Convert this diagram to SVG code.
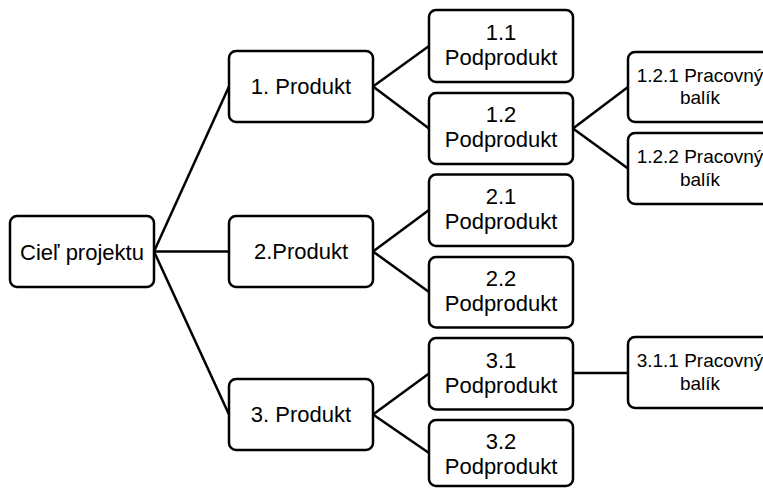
<svg xmlns="http://www.w3.org/2000/svg" width="763" height="488" viewBox="0 0 763 488">
<style>
.box{fill:#fff;stroke:#000;stroke-width:2.5}
.t{font-family:"Liberation Sans",Arial,sans-serif;font-size:22px;fill:#000;text-anchor:middle}
.s{font-family:"Liberation Sans",Arial,sans-serif;font-size:19px;fill:#000;text-anchor:middle}
#connectors line{stroke:#000;stroke-width:2.5;fill:none}
</style>
<rect width="763" height="488" fill="#fff"/>
<g id="connectors">
<line x1="154" y1="251.5" x2="229" y2="86.5"/>
<line x1="154" y1="251.5" x2="229" y2="251.5"/>
<line x1="154" y1="251.5" x2="229" y2="414.5"/>
<line x1="373" y1="86.5" x2="429" y2="46"/>
<line x1="373" y1="86.5" x2="429" y2="128.5"/>
<line x1="373" y1="251.5" x2="429" y2="210"/>
<line x1="373" y1="251.5" x2="429" y2="292"/>
<line x1="373" y1="414.5" x2="429" y2="373.5"/>
<line x1="373" y1="414.5" x2="429" y2="453"/>
<line x1="573" y1="128.5" x2="628" y2="87"/>
<line x1="573" y1="128.5" x2="628" y2="168.5"/>
<line x1="573" y1="373" x2="628" y2="373"/>
</g>
<g id="root"><rect class="box" x="10" y="216" width="144" height="71" rx="7"/><text class="t" x="82" y="259.5">Cieľ projektu</text></g>
<g id="p1"><rect class="box" x="229" y="51" width="144" height="71" rx="7"/><text class="t" x="301" y="94">1. Produkt</text></g>
<g id="p2"><rect class="box" x="229" y="216" width="144" height="71" rx="7"/><text class="t" x="301" y="259">2.Produkt</text></g>
<g id="p3"><rect class="box" x="229" y="379" width="144" height="71" rx="7"/><text class="t" x="301" y="422">3. Produkt</text></g>
<g id="p11"><rect class="box" x="429" y="10" width="144" height="72" rx="7"/><text class="t" x="501" y="40">1.1</text><text class="t" x="501" y="65">Podprodukt</text></g>
<g id="p12"><rect class="box" x="429" y="93" width="144" height="71" rx="7"/><text class="t" x="501" y="122">1.2</text><text class="t" x="501" y="147">Podprodukt</text></g>
<g id="p21"><rect class="box" x="429" y="174.5" width="144" height="71.5" rx="7"/><text class="t" x="501" y="204">2.1</text><text class="t" x="501" y="229">Podprodukt</text></g>
<g id="p22"><rect class="box" x="429" y="257" width="144" height="70.5" rx="7"/><text class="t" x="501" y="286">2.2</text><text class="t" x="501" y="311">Podprodukt</text></g>
<g id="p31"><rect class="box" x="429" y="338" width="144" height="71.5" rx="7"/><text class="t" x="501" y="367.5">3.1</text><text class="t" x="501" y="392.5">Podprodukt</text></g>
<g id="p32"><rect class="box" x="429" y="420" width="144" height="66" rx="7"/><text class="t" x="501" y="449">3.2</text><text class="t" x="501" y="474">Podprodukt</text></g>
<g id="w121"><rect class="box" x="628" y="52" width="144" height="70" rx="7"/><text class="s" x="700" y="81.5">1.2.1 Pracovný</text><text class="s" x="700" y="104">balík</text></g>
<g id="w122"><rect class="box" x="628" y="133" width="144" height="71" rx="7"/><text class="s" x="700" y="163">1.2.2 Pracovný</text><text class="s" x="700" y="186">balík</text></g>
<g id="w311"><rect class="box" x="628" y="337" width="144" height="71" rx="7"/><text class="s" x="700" y="367">3.1.1 Pracovný</text><text class="s" x="700" y="390">balík</text></g>
</svg>
